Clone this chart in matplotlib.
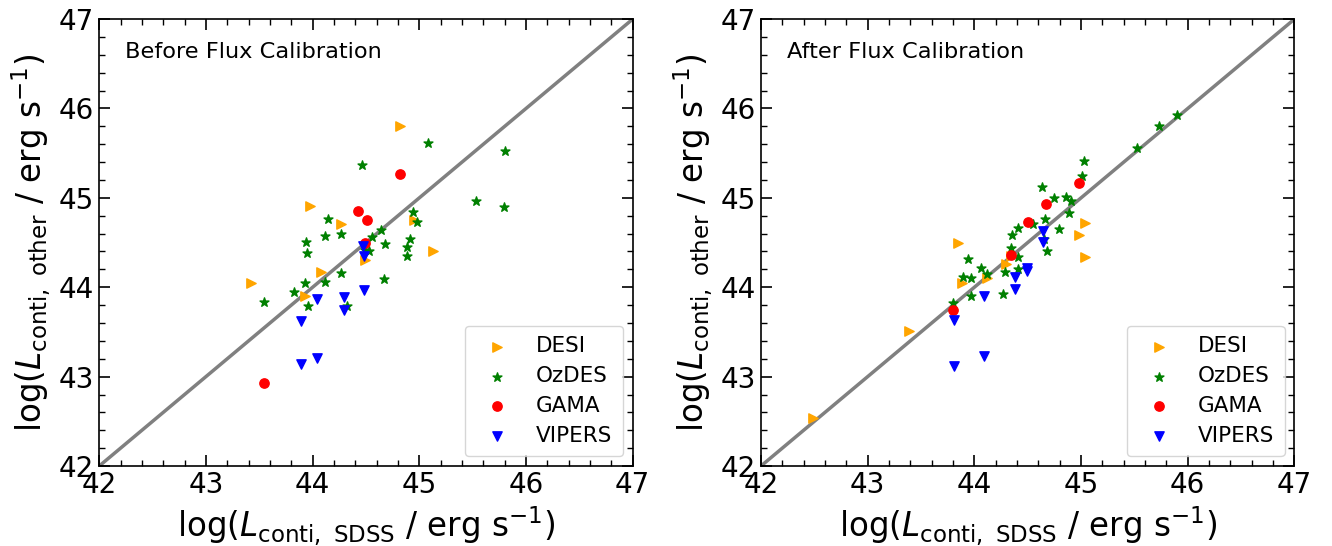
import matplotlib.pyplot as plt
import numpy as np

# before flux calibration
desi_x0 = [44.82, 43.98, 44.27, 44.95, 45.13, 44.49, 44.08, 43.42, 43.93]
desi_y0 = [45.80, 44.91, 44.71, 44.75, 44.41, 44.30, 44.17, 44.05, 43.90]
oz_x0 = [45.08, 45.80, 44.46, 45.53, 45.79, 44.94, 44.98, 44.14, 44.12, 44.27,
         43.94, 43.95, 44.64, 44.56, 44.68, 44.91, 44.88, 44.88, 44.49, 44.53,
         44.27, 44.12, 43.93, 44.67, 43.83, 43.96, 44.32, 43.54]
oz_y0 = [45.61, 45.52, 45.37, 44.97, 44.90, 44.84, 44.73, 44.76, 44.57, 44.60,
         44.51, 44.38, 44.64, 44.56, 44.48, 44.54, 44.45, 44.35, 44.42, 44.41,
         44.16, 44.06, 44.05, 44.09, 43.95, 43.79, 43.79, 43.83]
gama_x0 = [44.82, 44.43, 44.51, 44.49, 43.54]
gama_y0 = [45.27, 44.85, 44.75, 44.49, 42.93]
vip_x0 = [44.48, 44.04, 44.29, 44.29, 43.89, 44.04, 43.89, 44.47, 44.48]
vip_y0 = [43.97, 43.87, 43.89, 43.75, 43.62, 43.21, 43.14, 44.46, 44.35]

# after flux calibration
desi_x1 = [42.49, 43.39, 43.85, 43.88, 44.12, 44.30, 44.34, 45.04, 44.98, 45.04]
desi_y1 = [42.54, 43.51, 44.49, 44.05, 44.10, 44.26, 44.35, 44.72, 44.59, 44.34]
oz_x1 = [45.90, 45.73, 45.52, 45.03, 45.01, 44.63, 44.75, 44.86, 44.91, 44.89,
         44.66, 44.55, 44.79, 44.41, 44.35, 44.65, 44.68, 44.34, 44.41, 43.94,
         44.06, 44.12, 43.89, 43.97, 44.29, 44.41, 43.97, 44.27, 43.80]
oz_y1 = [45.93, 45.80, 45.56, 45.41, 45.25, 45.12, 45.00, 45.01, 44.97, 44.83,
         44.76, 44.71, 44.65, 44.66, 44.59, 44.54, 44.40, 44.44, 44.34, 44.32,
         44.22, 44.15, 44.12, 44.10, 44.17, 44.20, 43.90, 43.93, 43.82]
gama_x1 = [44.98, 44.67, 44.50, 44.34, 43.80]
gama_y1 = [45.17, 44.93, 44.73, 44.36, 43.75]
vip_x1 = [44.64, 44.64, 44.49, 44.49, 44.38, 44.38, 44.09, 43.81, 44.09, 43.81]
vip_y1 = [44.63, 44.51, 44.22, 44.18, 44.11, 43.98, 43.90, 43.63, 43.23, 43.12]

fig = plt.figure(figsize=(13.32, 5.46), dpi=100)
ax1 = fig.add_axes([0.0745, 0.1465, 0.4005, 0.8185])
ax2 = fig.add_axes([0.5713, 0.1465, 0.4005, 0.8185])

panels = [
    (ax1, 'Before Flux Calibration', desi_x0, desi_y0, oz_x0, oz_y0, gama_x0, gama_y0, vip_x0, vip_y0),
    (ax2, 'After Flux Calibration', desi_x1, desi_y1, oz_x1, oz_y1, gama_x1, gama_y1, vip_x1, vip_y1),
]

for ax, title, dx, dy, ox, oy, gx, gy, vx, vy in panels:
    ax.plot([42, 47], [42, 47], color='gray', lw=2.5, zorder=1)
    ax.scatter(dx, dy, marker='>', color='orange', s=45, label='DESI', zorder=2)
    ax.scatter(ox, oy, marker='*', color='green', s=45, label='OzDES', zorder=2)
    ax.scatter(gx, gy, marker='o', color='red', s=45, label='GAMA', zorder=2)
    ax.scatter(vx, vy, marker='v', color='blue', s=45, label='VIPERS', zorder=2)
    ax.set_xlim(42, 47)
    ax.set_ylim(42, 47)
    ax.set_xticks(np.arange(42, 48))
    ax.set_yticks(np.arange(42, 48))
    ax.minorticks_on()
    ax.tick_params(which='both', direction='in', top=True, right=True, labelsize=20)
    ax.tick_params(which='major', length=8, width=1.2)
    ax.tick_params(which='minor', length=4, width=1)
    for sp in ax.spines.values():
        sp.set_linewidth(1.2)
    ax.text(0.048, 0.926, title, transform=ax.transAxes, fontsize=16.2, va='center')
    ax.set_xlabel(r'log($L_{\rm conti,\ SDSS}$ / erg s$^{-1}$)', fontsize=23.5)
    ax.set_ylabel(r'log($L_{\rm conti,\ other}$ / erg s$^{-1}$)', fontsize=23.5)
    ax.legend(loc='lower right', fontsize=15.5, borderpad=0.5, labelspacing=0.45,
              borderaxespad=0.45)

fig.savefig('out.png', dpi=100)
